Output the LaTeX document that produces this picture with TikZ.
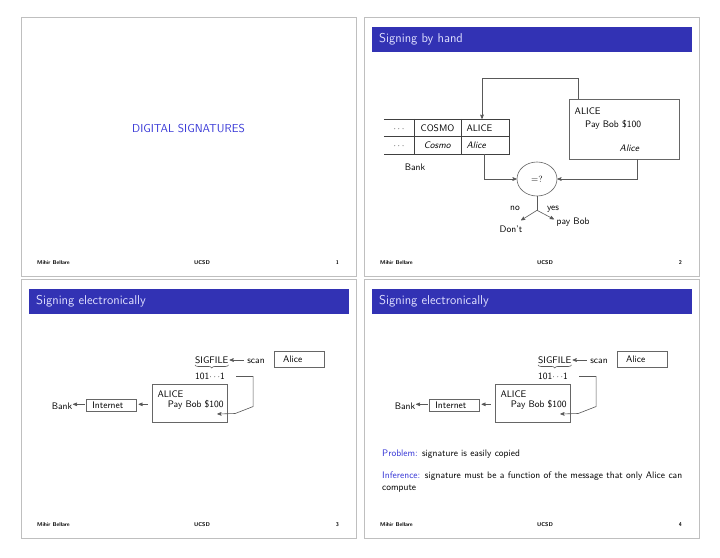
\documentclass[tikz,border=0pt]{standalone}
\usepackage{fontspec}
\usetikzlibrary{shapes,arrows,positioning,calc,decorations.pathreplacing}
\definecolor{barblue}{RGB}{50,50,180}
\definecolor{headblue}{RGB}{55,55,215}
\tikzset{
slideborder/.style = {draw=black!25, line width=0.9pt},
bar/.style = {fill=barblue, draw=none},
titletext/.style = {anchor=west, inner sep=0pt, text=white!88!blue, font=\sffamily\fontsize{12.8}{14}\selectfont},
foot/.style = {inner sep=0pt, font=\sffamily\bfseries\fontsize{5.5}{6}\selectfont},
lbl/.style = {inner sep=0pt, font=\sffamily\fontsize{9.5}{11}\selectfont, text height=6.5pt, text depth=0pt},
box/.style = {lbl, draw=black!60, line width=0.6pt, rectangle},
cell/.style = {lbl, minimum height=17.5pt},
wire/.style = {draw=black!65, line width=0.6pt},
}
\newcommand{\slideframe}[4]{%
  \draw[slideborder] (#2,#3) rectangle ++(335,259);
  \node[foot, anchor=west] (#1-author) at (#2+16,#3+246) {Mihir Bellare};
  \node[foot] (#1-inst) at (#2+181,#3+246) {UCSD};
  \node[foot, anchor=east] (#1-page) at (#2+318,#3+246) {#4};
}
\newcommand{\slidetitle}[4]{%
  \fill[bar] (#2+7.5,#3+10) rectangle ++(320,24.5);
  \node[titletext] (#1-title) at (#2+15,#3+22.5) {#4};
}
% scanned signature sent over the net
\newcommand{\elecdiagram}{%
  \node[lbl, anchor=west] (sig) at (195,360) {SIGFILE};
  \draw[wire, decorate, decoration={brace, mirror, amplitude=3pt}]
    ([yshift=-1.5pt]sig.south west) -- ([yshift=-1.5pt]sig.south east);
  \node[lbl, anchor=west] (bits) at (195,376) {101$\cdots$1};
  \node[lbl] (scan) at (256,360) {scan};
  \node[box, minimum width=50, minimum height=16, text width=32pt, inner xsep=9pt, align=left] (photo) at (299,359) {Alice};
  \node[box, minimum width=75, minimum height=38] (letter) at (189.5,403) {};
  \node[lbl, anchor=west] (letter-to) at (157.3,394) {ALICE};
  \node[lbl, anchor=west] (letter-body) at (167.7,404) {Pay Bob \$100};
  \node[box, minimum width=50, minimum height=12.4, text width=38.8pt, inner xsep=5.6pt, align=left] (net) at (111.7,405.5) {Internet};
  \node[lbl] (bank) at (62,406) {Bank};
  \coordinate (drop) at ($(letter.east)+(-10,11)$);
  \draw[wire,->] ([xshift=-3.5pt]scan.west) -- ([xshift=1pt]sig.east);
  \draw[wire,->] ($(letter.west)+(-4,1.3)$) -- ($(net.east)+(1.5,-1.2)$);
  \draw[wire,->] ($(net.west)+(-1.5,-1.2)$) -- ($(bank.east)+(0.5,-1.7)$);
  \draw[wire,->] ($(bits.east)+(11,0.5)$) -- ++(17,0) -- ++(0,30) -- ++(-18,7) -- (drop);
}
\begin{document}
\begin{tikzpicture}[x=1pt, y=-1pt, >=stealth']
  \useasboundingbox (0,0) rectangle (720,557);
  \fill[white] (0,0) rectangle (720,557);

  % slide 1
  \slideframe{s1}{21}{17}{1}
  \node[lbl, text=headblue, font=\sffamily\fontsize{11.5}{13}\selectfont] (cover) at (188.5,129) {DIGITAL SIGNATURES};

  % slide 2
  \slideframe{s2}{364}{17}{2}
  \slidetitle{s2}{364}{17}{Signing by hand}
  \node[box, minimum width=110, minimum height=60] (cheque) at (624,129) {};
  \node[lbl, anchor=west] (cheque-to) at (574.5,111) {ALICE};
  \node[lbl, anchor=west] (cheque-body) at (585,124) {Pay Bob \$100};
  \node[lbl] (cheque-sig) at (629.5,148) {\textsl{Alice}};
  \node[cell, minimum width=30] (t11) at (399,127.75) {$\cdots$};
  \node[cell, minimum width=47] (t12) at (437.5,127.75) {COSMO};
  \node[cell, text width=37pt, inner xsep=5.5pt, align=left] (t13) at (485,127.75) {ALICE};
  \node[cell, minimum width=30] (t21) at (399,145.25) {$\cdots$};
  \node[cell, minimum width=47] (t22) at (437.5,145.25) {\textsl{Cosmo}};
  \node[cell, text width=37pt, inner xsep=5.5pt, align=left] (t23) at (485,145.25) {\textsl{Alice}};
  \draw[wire, draw=black!75] (t11.north west) -- (t13.north east) -- (t23.south east) -- (t21.south west);
  \draw[wire, draw=black!75] (t21.north west) -- (t23.north east);
  \draw[wire, draw=black!75] (t12.north west) -- (t22.south west);
  \draw[wire, draw=black!75] (t13.north west) -- (t23.south west);
  \node[lbl] (vault) at (415,167) {Bank};
  \node[lbl, draw=black!60, line width=0.6pt, ellipse, minimum width=40, minimum height=34] (cmp) at (537,179) {$=?$};
  \draw[wire,->] ($(cheque.north west)+(10,0)$) -- ++(0,-20) -| ($(t13.north)+(-3,0)$);
  \draw[wire,->] ($(t23.south)+(-1,0)$) |- (cmp.west);
  \draw[wire,->] ($(cheque.south east)+(-42,0)$) |- (cmp.east);
  \draw[wire] (cmp.south) -- ++(0,14) coordinate (split);
  \coordinate (nogo) at ($(split)+(-16,10)$);
  \coordinate (go) at ($(split)+(17,9)$);
  \draw[wire,->] (split) -- (nogo);
  \draw[wire,->] (split) -- (go);
  \node[lbl] (no) at (515,207) {no};
  \node[lbl] (yes) at (553,207) {yes};
  \node[lbl, anchor=west] (paybob) at (556.5,221.7) {pay Bob};
  \node[lbl] (dont) at (511,229) {Don't};

  % slide 3
  \slideframe{s3}{21}{279}{3}
  \slidetitle{s3}{21}{279}{Signing electronically}
  \begin{scope}[name prefix=s3-]
    \elecdiagram
  \end{scope}

  % slide 4
  \slideframe{s4}{364}{279}{4}
  \slidetitle{s4}{364}{279}{Signing electronically}
  \begin{scope}[shift={(343,0)}, name prefix=s4-]
    \elecdiagram
  \end{scope}
  \node[lbl, anchor=west] (problem) at (382,453) {\textcolor{headblue}{Problem:} signature is easily copied};
  \node[lbl, anchor=west] (inference) at (382,475) {\makebox[300pt][s]{\textcolor{headblue}{Inference:} signature must be a function of the message that only Alice can}};
  \node[lbl, anchor=west] (inference-cont) at (382,487) {compute};
\end{tikzpicture}
\end{document}
